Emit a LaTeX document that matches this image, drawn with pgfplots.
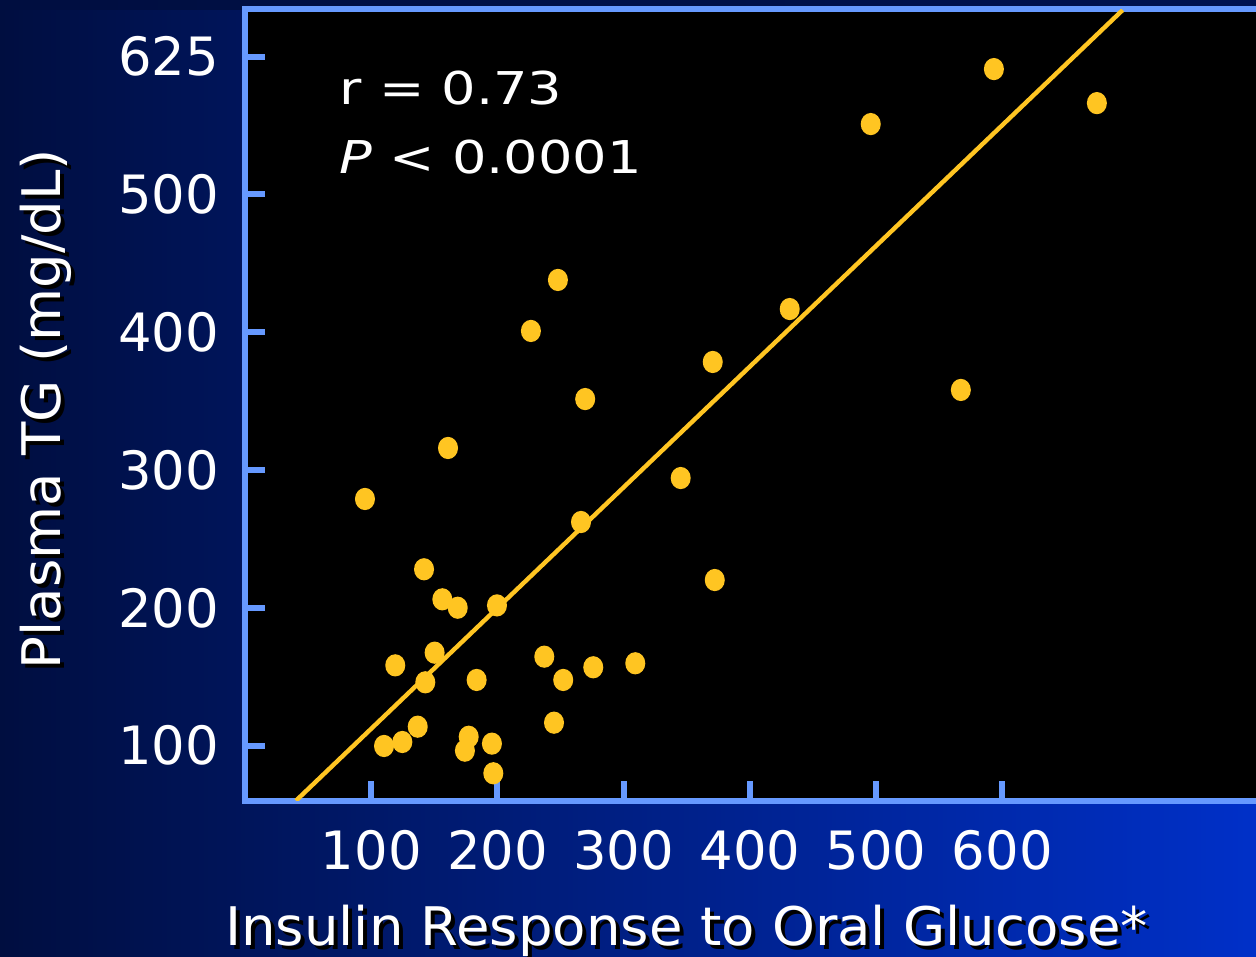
\documentclass[border=0pt]{standalone}
\usepackage{pgfplots}
\pgfplotsset{compat=1.18}
\usepackage{fontspec}
\setmainfont{DejaVu Sans}
\newfontfamily\annotfam{DejaVu Sans}[FakeStretch=1.2]
\newfontfamily\labelfam{DejaVu Sans}[FakeStretch=1.025]
\definecolor{gold}{RGB}{255,197,34}
\definecolor{frame}{RGB}{102,153,255}
\definecolor{bgA}{RGB}{0,14,64}
\definecolor{bgB}{RGB}{0,34,160}
\definecolor{bgC}{RGB}{0,48,200}
\definecolor{bgTop}{RGB}{0,18,80}
\newcommand{\shadowed}[3]{\leavevmode\rlap{\kern#1\raisebox{#2}{\color{black}#3}}#3}
\newcommand{\tickfont}{\fontsize{13.2pt}{15pt}\selectfont}
\newcommand{\labelfont}{\labelfam\fontsize{13.3pt}{15pt}\selectfont}
\newcommand{\annotfont}{\annotfam\fontsize{11.3pt}{13pt}\selectfont}
\begin{document}
\begin{tikzpicture}
\useasboundingbox (0,0) rectangle (314pt,239pt);
\clip (0,0) rectangle (314pt,239pt);
\shade[left color=bgA, middle color=bgB, right color=bgC] (0,0) rectangle (314pt,239pt);
\shade[left color=bgA, right color=bgTop] (0,236.5pt) rectangle (314pt,239pt);
\begin{axis}[
  at={(61.275pt,38.825pt)}, anchor=south west,
  scale only axis, width=258.7pt, height=197.9pt,
  xmin=0, xmax=820, ymin=60.1, ymax=634.4,
  axis background/.style={fill=black},
  axis line style={frame, line width=1.5pt},
  tick align=inside, xtick pos=bottom, ytick pos=left,
  major tick length=5pt,
  every tick/.style={frame, line width=1.5pt},
  xtick={100,200,300,400,500,600},
  ytick={100,200,300,400,500,600},
  yticklabels={100,200,300,400,500,625},
  ticklabel style={white, font=\tickfont},
  /pgf/number format/assume math mode=true,
  xticklabel style={anchor=base, yshift=-17.3pt},
  yticklabel style={anchor=east, inner sep=0pt, xshift=-6.3pt},
  xlabel={\shadowed{1pt}{-1pt}{Insulin Response to Oral Glucose*}},
  ylabel={\shadowed{-1pt}{-1pt}{Plasma TG (mg/dL)}},
  xlabel style={at={(axis description cs:0.4266,-0.1823)}, anchor=base, font=\labelfont, text=white},
  ylabel style={at={(axis description cs:-0.1785,0.4948)}, anchor=base, font=\labelfont, text=white},
]
\addplot[gold, line width=1.1pt] coordinates {(40.3,60.1) (695.4,633.7)};
\addplot[only marks, mark=*, mark size=2.3pt, color=gold, mark options={fill=gold, draw=gold, yscale=1.12}] coordinates {
(141.8,228.0) (156.3,206.2) (168.5,200.1) (199.6,201.8) (150.2,167.5)
(119.0,158.3) (142.8,146.0) (183.5,147.7) (237.1,164.6) (252.1,147.7)
(275.9,156.9) (309.2,159.8) (244.8,116.7) (136.8,113.8) (110.1,99.8)
(124.6,102.7) (177.2,106.5) (174.2,96.4) (195.6,101.5) (196.7,80.0)
(95.0,279.0) (160.8,316.0) (226.5,400.9) (247.9,437.9) (266.2,262.3)
(269.5,351.5) (345.2,294.2) (370.6,378.4) (372.2,220.2) (431.6,416.8)
(495.8,551.0) (567.2,358.1) (593.4,590.9) (675.0,566.2)
};
\node[anchor=base west, inner sep=0pt, text=white, font=\annotfont] at (axis cs:74.2,565.5) {r = 0.73};
\node[anchor=base west, inner sep=0pt, text=white, font=\annotfont] at (axis cs:74.2,515.2) {\textit{P} < 0.0001};
\end{axis}
\end{tikzpicture}
\end{document}
